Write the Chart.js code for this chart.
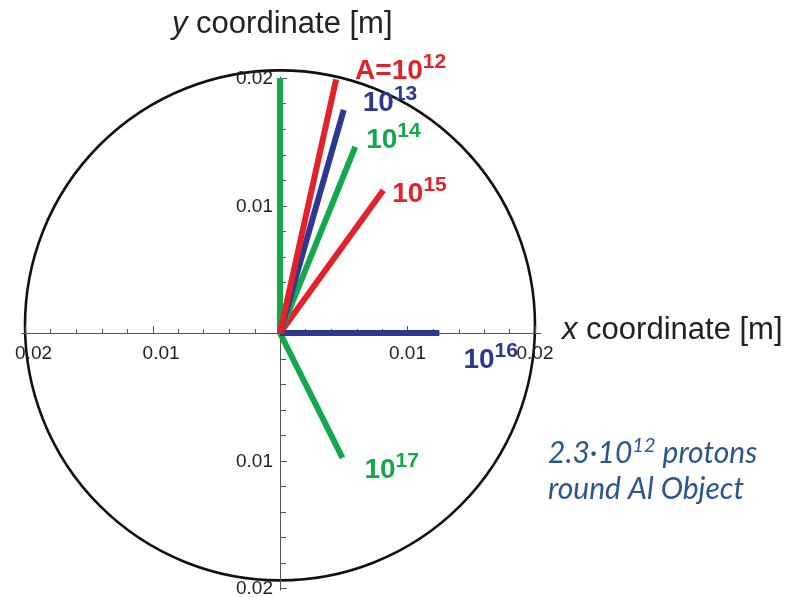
<!DOCTYPE html>
<html>
<head>
<meta charset="utf-8">
<script src="https://cdn.jsdelivr.net/npm/chart.js@4/dist/chart.umd.min.js"></script>
<style>
  html, body { margin: 0; padding: 0; background: #fff; }
  #wrap { width: 805px; height: 597px; }
</style>
</head>
<body>
<div id="wrap"><canvas id="chart" width="805" height="597"></canvas></div>
<script>
// Track end points (all tracks start at the origin), metres
const exponents = [12, 13, 14, 15, 16, 17, null]
const endX = [0.0044, 0.0050, 0.0059, 0.0081, 0.0125, 0.0049, 0.0]
const endY = [0.0199, 0.0175, 0.0146, 0.0112, 0.0, -0.0098, 0.0200]
const trackColors = ["#e3212b", "#2d3990", "#14a84c", "#e3212b", "#2d3990", "#14a84c", "#14a84c"]

// axis tick labels (the picture prints absolute values)
const tickValues = [-0.02, -0.01, 0.01, 0.02]
const tickLabels = ["0.02", "0.01", "0.01", "0.02"]

// round object outline
const objectRadius = 0.02
const objectCenter = [0, 0.0006]

// pixel scale: 127.5 px per 0.01 m, origin at (280, 333)
const pxPerUnit = 12750
const originPx = [280, 333]
const W = 805, H = 597

const xMin = -originPx[0] / pxPerUnit
const xMax = (W - originPx[0]) / pxPerUnit
const yMax = originPx[1] / pxPerUnit
const yMin = -(H - originPx[1]) / pxPerUnit

const datasets = endX.map((x, i) => ({
  label: exponents[i] ? "10^" + exponents[i] : "",
  data: [{ x: 0, y: 0 }, { x: x, y: endY[i] }],
  borderColor: trackColors[i],
  backgroundColor: trackColors[i],
  borderWidth: 6,
  borderCapStyle: "butt",
  showLine: true,
  pointRadius: 0,
}))

// label offsets from each track end, px
const labelOffsets = [[19, 0], [19, 1], [11, 1], [9, 12], [24, 35], [22, 20], null]

const ARIAL = "'Liberation Sans', Arial, sans-serif"

// draws base + superscript, returns x after the text
const drawPower = (ctx, x, y, base, exp, color, baseFont, supFont, rise) => {
  ctx.fillStyle = color
  ctx.textAlign = "left"
  ctx.textBaseline = "alphabetic"
  ctx.font = baseFont
  ctx.fillText(base, x, y)
  const w = ctx.measureText(base).width
  ctx.font = supFont
  ctx.fillText(exp, x + w, y - rise)
  return x + w + ctx.measureText(exp).width
}

const axesPlugin = {
  id: "axesPlugin",
  beforeDatasetsDraw: (chart) => {
    const ctx = chart.ctx
    const xs = chart.scales.x
    const ys = chart.scales.y
    const x0 = xs.getPixelForValue(0)
    const y0 = ys.getPixelForValue(0)
    ctx.save()

    // object circle
    ctx.strokeStyle = "#111"
    ctx.lineWidth = 2.6
    const cx = xs.getPixelForValue(objectCenter[0])
    const cy = ys.getPixelForValue(objectCenter[1])
    const r = xs.getPixelForValue(objectRadius) - x0
    ctx.beginPath()
    ctx.arc(cx, cy, r, 0, Math.PI * 2)
    ctx.stroke()

    // axis lines
    ctx.strokeStyle = "#555"
    ctx.lineWidth = 1
    ctx.beginPath()
    ctx.moveTo(xs.getPixelForValue(-0.0203), Math.round(y0) + 0.5)
    ctx.lineTo(xs.getPixelForValue(0.0205), Math.round(y0) + 0.5)
    ctx.moveTo(Math.round(x0) + 0.5, ys.getPixelForValue(0.0201))
    ctx.lineTo(Math.round(x0) + 0.5, ys.getPixelForValue(-0.0202))
    ctx.stroke()

    // minor / major ticks every 0.002
    ctx.beginPath()
    for (let k = -10; k <= 10; k++) {
      if (k === 0) continue
      const v = k * 0.002
      const major = k % 5 === 0
      const px = Math.round(xs.getPixelForValue(v)) + 0.5
      ctx.moveTo(px, Math.round(y0))
      ctx.lineTo(px, Math.round(y0) - (major ? 7 : 4))
      const py = Math.round(ys.getPixelForValue(v)) + 0.5
      ctx.moveTo(Math.round(x0), py)
      ctx.lineTo(Math.round(x0) + (major ? 7 : 6), py)
    }
    ctx.stroke()

    // tick labels; negative x labels sit where "–0.0x" would be centred
    ctx.fillStyle = "#222"
    ctx.font = "19px " + ARIAL
    tickValues.forEach((v, i) => {
      const px = xs.getPixelForValue(v)
      ctx.textBaseline = "top"
      if (v < 0) {
        ctx.textAlign = "right"
        ctx.fillText(tickLabels[i], px + ctx.measureText("\u2212" + tickLabels[i]).width / 2 + 3, y0 + 11)
      } else {
        ctx.textAlign = "center"
        ctx.fillText(tickLabels[i], px, y0 + 11)
      }
      ctx.textAlign = "right"
      ctx.textBaseline = "middle"
      ctx.fillText(tickLabels[i], x0 - 7, ys.getPixelForValue(v) + 1)
    })

    // axis titles
    ctx.textAlign = "left"
    ctx.textBaseline = "alphabetic"
    const title = (x, y, letter) => {
      ctx.font = "italic 31px " + ARIAL
      ctx.fillText(letter, x, y)
      const w = ctx.measureText(letter).width
      ctx.font = "31px " + ARIAL
      ctx.fillText(" coordinate [m]", x + w, y)
    }
    title(172, 33, "y")
    title(562, 339, "x")
    ctx.restore()
  },
  afterDatasetsDraw: (chart) => {
    const ctx = chart.ctx
    const xs = chart.scales.x
    const ys = chart.scales.y
    ctx.save()
    exponents.forEach((e, i) => {
      if (!e) return
      const px = xs.getPixelForValue(endX[i]) + labelOffsets[i][0]
      const py = ys.getPixelForValue(endY[i]) + labelOffsets[i][1]
      const base = i === 0 ? "A=10" : "10"
      drawPower(ctx, px, py, base, String(e), trackColors[i], "bold 28px " + ARIAL, "bold 21px " + ARIAL, 11)
    })

    // note
    const noteColor = "#2b5591"
    const nx = drawPower(ctx, 548, 463, "2.3·10", "12", noteColor,
      "italic 30px Lato, sans-serif", "italic 20px Lato, sans-serif", 11)
    ctx.font = "italic 30px Lato, sans-serif"
    ctx.fillText(" protons", nx, 463)
    ctx.fillText("round Al Object", 548, 499)
    ctx.restore()
  },
}

new Chart(document.getElementById("chart"), {
  type: "scatter",
  data: { datasets },
  options: {
    responsive: false,
    animation: false,
    layout: { padding: 0 },
    plugins: { legend: { display: false }, tooltip: { enabled: false } },
    scales: {
      x: { type: "linear", display: false, min: xMin, max: xMax },
      y: { type: "linear", display: false, min: yMin, max: yMax },
    },
  },
  plugins: [axesPlugin],
})
</script>
</body>
</html>
